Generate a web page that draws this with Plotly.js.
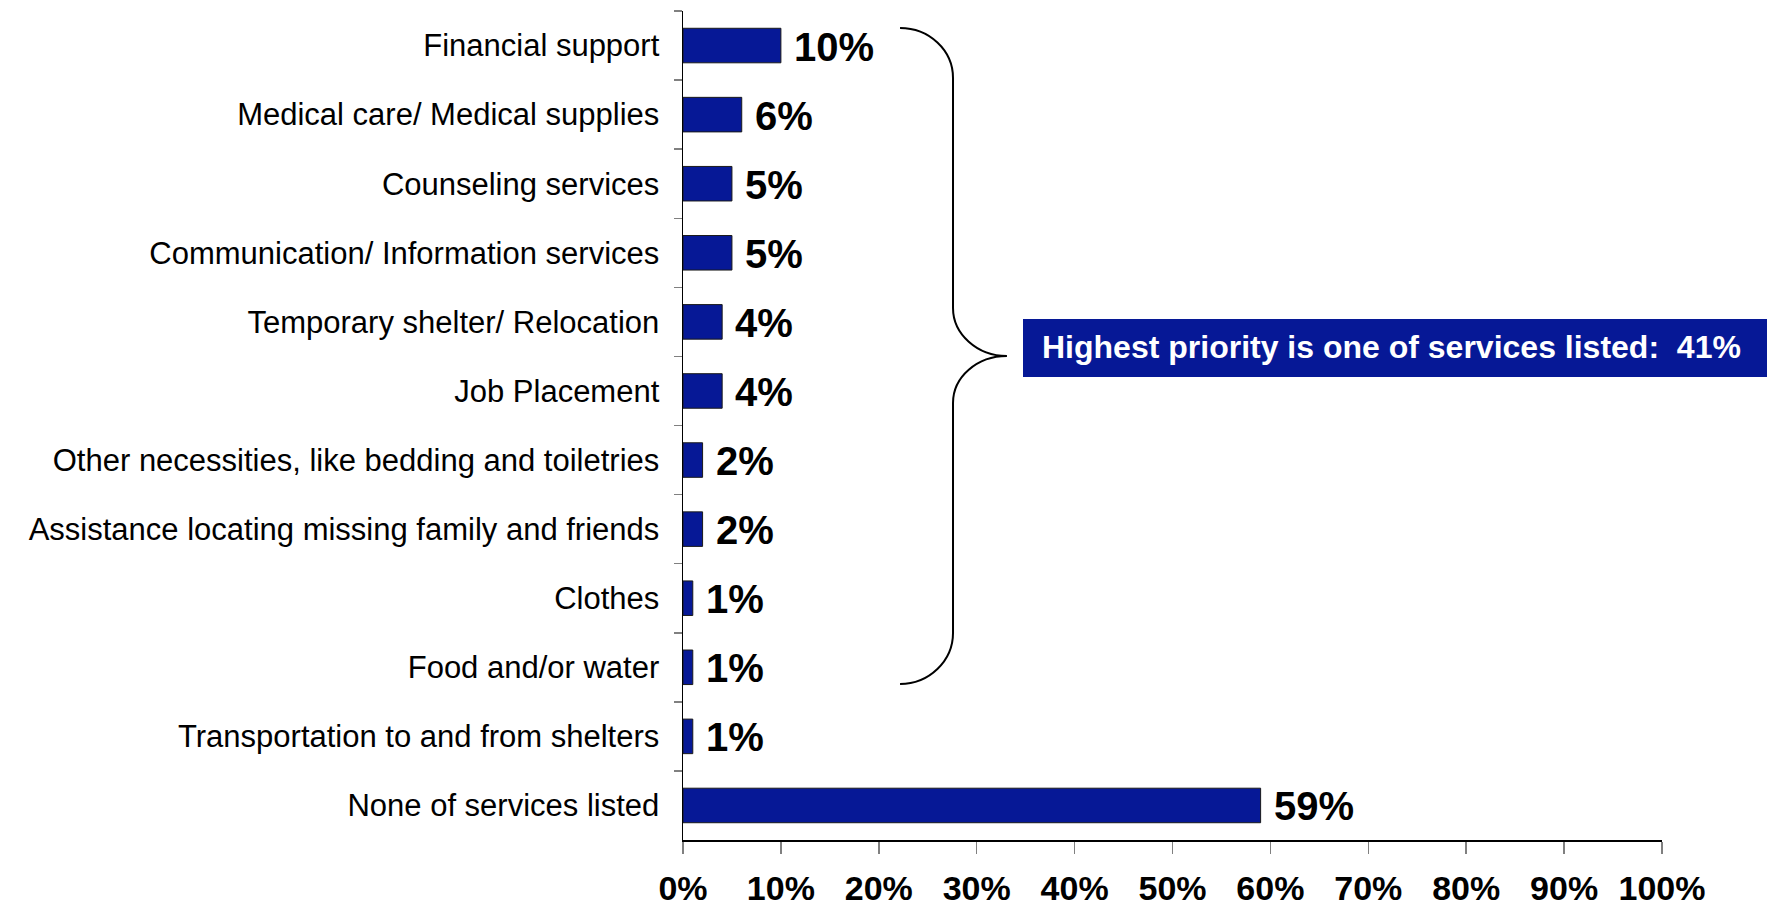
<!DOCTYPE html>
<html>
<head>
<meta charset="utf-8">
<script src="https://cdn.plot.ly/plotly-3.0.1.min.js"></script>
<style>
  html, body { margin: 0; padding: 0; background: #ffffff; }
  #chart { width: 1767px; height: 908px; }
</style>
</head>
<body>
<div id="chart"></div>
<script>
// ---- Data ----
var categories = [
  "Financial support",
  "Medical care/ Medical supplies",
  "Counseling services",
  "Communication/ Information services",
  "Temporary shelter/ Relocation",
  "Job Placement",
  "Other necessities, like bedding and toiletries",
  "Assistance locating missing family and friends",
  "Clothes",
  "Food and/or water",
  "Transportation to and from shelters",
  "None of services listed"
];
var values = [10, 6, 5, 5, 4, 4, 2, 2, 1, 1, 1, 59];
var xTickValues = [0, 10, 20, 30, 40, 50, 60, 70, 80, 90, 100];
var xTickLabels = ["0%", "10%", "20%", "30%", "40%", "50%", "60%", "70%", "80%", "90%", "100%"];
var summaryText = "Highest priority is one of services listed:  41%";

// ---- Layout constants ----
var W = 1767, H = 908;
var M = { l: 683, r: 105, t: 11, b: 68 };
var plotW = W - M.l - M.r, plotH = H - M.t - M.b;
var BLUE = "#061896";
var FONT = "Liberation Sans, Arial, sans-serif";

function px(x) { return ((x - M.l) / plotW).toFixed(4); }
function py(y) { return ((H - M.b - y) / plotH).toFixed(4); }

// Brace "}" path in paper coords (decoration)
var bracePath =
  "M " + px(900) + "," + py(28) +
  " C " + px(929) + "," + py(28) + " " + px(953) + "," + py(50) + " " + px(953) + "," + py(78) +
  " L " + px(953) + "," + py(308) +
  " C " + px(953) + "," + py(334) + " " + px(977) + "," + py(356) + " " + px(1007) + "," + py(356) +
  " C " + px(977) + "," + py(356) + " " + px(953) + "," + py(377) + " " + px(953) + "," + py(403) +
  " L " + px(953) + "," + py(633) +
  " C " + px(953) + "," + py(661) + " " + px(929) + "," + py(684) + " " + px(900) + "," + py(684);

var trace = {
  type: "bar",
  orientation: "h",
  x: values,
  y: categories,
  marker: { color: BLUE, line: { color: "#1a1a1a", width: 1 } },
  hoverinfo: "x+y",
  showlegend: false
};

var annotations = values.map(function (v, i) {
  return {
    x: v, y: categories[i], xref: "x", yref: "y",
    text: v + "%",
    showarrow: false, xanchor: "left", yanchor: "middle", xshift: 11, yshift: -1,
    font: { family: FONT, size: 40, color: "#000000", weight: "bold" }
  };
});

annotations.push({
  xref: "paper", yref: "paper",
  x: px(1391), y: py(347),
  text: summaryText,
  showarrow: false, xanchor: "center", yanchor: "middle",
  font: { family: FONT, size: 32, color: "#ffffff", weight: "bold" }
});

var layout = {
  width: W, height: H,
  margin: M,
  paper_bgcolor: "#ffffff",
  plot_bgcolor: "#ffffff",
  bargap: 0.5,
  font: { family: FONT, color: "#000000" },
  xaxis: {
    range: [0, 100],
    tickmode: "array",
    tickvals: xTickValues,
    ticktext: xTickLabels,
    ticks: "outside", ticklen: 12, tickwidth: 1.5, tickcolor: "#808080",
    ticklabelstandoff: 6,
    showgrid: false, zeroline: false,
    showline: true, linecolor: "#000000", linewidth: 1.5,
    tickfont: { family: FONT, size: 34, color: "#000000", weight: "bold" },
    fixedrange: true
  },
  yaxis: {
    type: "category",
    categoryorder: "array",
    categoryarray: categories,
    autorange: "reversed",
    tickson: "boundaries",
    ticks: "outside", ticklen: 8, tickwidth: 1.5, tickcolor: "#808080",
    ticklabelstandoff: 16,
    showgrid: false, zeroline: false,
    showline: true, linecolor: "#000000", linewidth: 1.5,
    tickfont: { family: FONT, size: 31, color: "#000000" },
    fixedrange: true
  },
  shapes: [
    { type: "path", xref: "paper", yref: "paper", path: bracePath,
      line: { color: "#000000", width: 2 } },
    { type: "rect", xref: "paper", yref: "paper", layer: "below",
      x0: px(1023), x1: px(1790), y0: py(377), y1: py(319),
      fillcolor: BLUE, line: { width: 0 } }
  ],
  annotations: annotations
};

Plotly.newPlot("chart", [trace], layout, { displayModeBar: false, staticPlot: true });
</script>
</body>
</html>
